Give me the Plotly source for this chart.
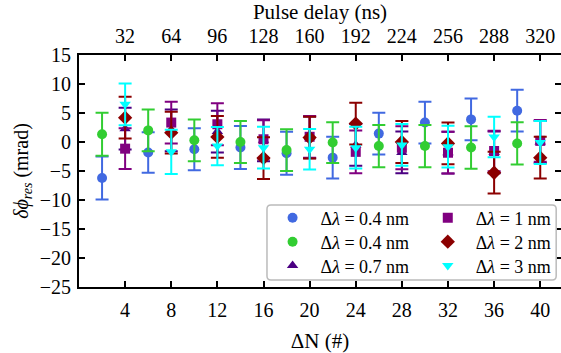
import plotly.graph_objects as go

# ---- data ----
N_a = [2, 6, 10, 14, 18, 22, 26, 30, 34, 38]          # blue / green positions
N_b = [4, 8, 12, 16, 20, 24, 28, 32, 36, 40]          # other series positions

blue_04 = [-6.2, -1.8, -1.25, -0.95, -1.95, -2.7, 1.45, 3.35, 3.9, 5.4]
blue_04_err = [3.7, 3.5, 3.6, 3.7, 3.7, 3.6, 3.6, 3.6, 3.6, 3.6]
green_04 = [1.35, 2.0, 0.3, 0.0, -1.4, -0.1, -0.7, -0.7, -0.95, -0.25]
green_04_err = [3.7, 3.6, 3.6, 3.6, 3.6, 3.5, 3.65, 3.65, 3.65, 3.65]
indigo_07 = [2.3, 2.0, 1.8, 0.3, 0.8, -0.5, -1.8, -1.85, -1.8, 0.0]
indigo_07_err = [3.6] * 10
purple_1 = [-1.15, 3.35, 3.06, 0.47, 0.9, -1.7, -1.0, -1.85, -1.55, 0.2]
purple_1_err = [3.5, 3.6, 3.6, 3.3, 3.6, 3.7, 3.7, 3.6, 3.5, 3.6]
red_2 = [4.2, 1.6, 0.87, -2.77, 0.76, 3.18, 0.0, -0.25, -5.3, -2.7]
red_2_err = [3.6] * 10
cyan_3 = [6.5, -1.7, -0.7, -0.97, -1.26, -0.97, -0.5, -0.8, 0.87, -0.1]
cyan_3_err = [3.6, 3.8, 3.3, 3.6, 3.5, 3.6, 3.6, 3.6, 3.5, 3.7]

top_tickvals = [4, 8, 12, 16, 20, 24, 28, 32, 36, 40]
top_ticktext = ["32", "64", "96", "128", "160", "192", "224", "256", "288", "320"]
bottom_tickvals = [4, 8, 12, 16, 20, 24, 28, 32, 36, 40]
y_tickvals = [-25, -20, -15, -10, -5, 0, 5, 10, 15]

SERIF = "Liberation Serif"

# name, x, y, err, colour, symbol, size, legend id
series = [
    ("Δ<i>λ</i> = 0.4 nm", N_a, blue_04, blue_04_err, "#4169E1", "circle", 10, "legend"),
    ("Δ<i>λ</i> = 0.4 nm", N_a, green_04, green_04_err, "#32CD32", "circle", 10, "legend2"),
    ("Δ<i>λ</i> = 0.7 nm", N_b, indigo_07, indigo_07_err, "#4B0082", "triangle-up", 10, "legend3"),
    ("Δ<i>λ</i> = 1 nm", N_b, purple_1, purple_1_err, "#800080", "square", 10, "legend4"),
    ("Δ<i>λ</i> = 2 nm", N_b, red_2, red_2_err, "#8B0000", "diamond", 11, "legend5"),
    ("Δ<i>λ</i> = 3 nm", N_b, cyan_3, cyan_3_err, "#00FFFF", "triangle-down", 10, "legend6"),
]

fig = go.Figure()
for name, xs, ys, errs, col, sym, sz, leg in series:
    fig.add_trace(go.Scatter(
        x=xs, y=ys, mode="markers", name=name,
        marker=dict(color=col, symbol=sym, size=sz, line=dict(width=0)),
        error_y=dict(type="data", array=errs, visible=True, color=col,
                     thickness=2, width=6.5),
        legend=leg,
    ))

# dummy trace to carry the top axis
fig.add_trace(go.Scatter(x=[None], y=[None], xaxis="x2", showlegend=False,
                         hoverinfo="skip"))

XR = [0, 41.8]
axis_common = dict(showgrid=False, zeroline=False, showline=True,
                   linecolor="black", linewidth=2, ticks="inside",
                   ticklen=6, tickwidth=1.5, tickcolor="black", automargin=False,
                   tickfont=dict(family=SERIF, size=20, color="black"))

leg_common = dict(yanchor="middle", xanchor="left", bgcolor="rgba(0,0,0,0)",
                  borderwidth=0, font=dict(family=SERIF, size=18, color="black"),
                  itemwidth=46, tracegroupgap=0)

row_y = [0.297, 0.194, 0.091]
col_x = [0.385, 0.707]

fig.update_layout(
    width=561, height=353,
    margin=dict(l=79, r=0, t=55, b=66),
    plot_bgcolor="white", paper_bgcolor="white",
    font=dict(family=SERIF, size=20, color="black"),
    xaxis=dict(range=XR, tickvals=bottom_tickvals, mirror=False,
               ticklabelstandoff=4,
               title=dict(text="ΔN (#)", font=dict(family=SERIF, size=21), standoff=22),
               **axis_common),
    xaxis2=dict(range=XR, overlaying="x", side="top", anchor="y",
                tickvals=top_tickvals, ticktext=top_ticktext,
                ticklabelstandoff=2,
                title=dict(text="Pulse delay (ns)", font=dict(family=SERIF, size=21), standoff=8),
                **axis_common),
    yaxis=dict(range=[-25, 15], tickvals=y_tickvals, mirror="ticks",
               ticklabelstandoff=2,
               title=dict(text="<i>δϕ</i><sub><i>res</i></sub> (mrad)",
                          font=dict(family=SERIF, size=20), standoff=6),
               **axis_common),
    legend=dict(x=col_x[0], y=row_y[0], **leg_common),
    legend2=dict(x=col_x[0], y=row_y[1], **leg_common),
    legend3=dict(x=col_x[0], y=row_y[2], **leg_common),
    legend4=dict(x=col_x[1], y=row_y[0], **leg_common),
    legend5=dict(x=col_x[1], y=row_y[1], **leg_common),
    legend6=dict(x=col_x[1], y=row_y[2], **leg_common),
    showlegend=True,
)

# rounded legend frame
x0, x1, y0, y1 = 0.390, 0.990, 0.030, 0.353
rx, ry = 4 / 482, 4 / 232
path = (f"M {x0+rx},{y0} L {x1-rx},{y0} Q {x1},{y0} {x1},{y0+ry} "
        f"L {x1},{y1-ry} Q {x1},{y1} {x1-rx},{y1} L {x0+rx},{y1} "
        f"Q {x0},{y1} {x0},{y1-ry} L {x0},{y0+ry} Q {x0},{y0} {x0+rx},{y0} Z")
fig.add_shape(type="path", path=path, xref="paper", yref="paper",
              line=dict(color="#bbbbbb", width=1.5), fillcolor="white",
              layer="above")

fig.write_html("out.html", config={"displayModeBar": False},
               post_script="document.body.style.margin='0';")
